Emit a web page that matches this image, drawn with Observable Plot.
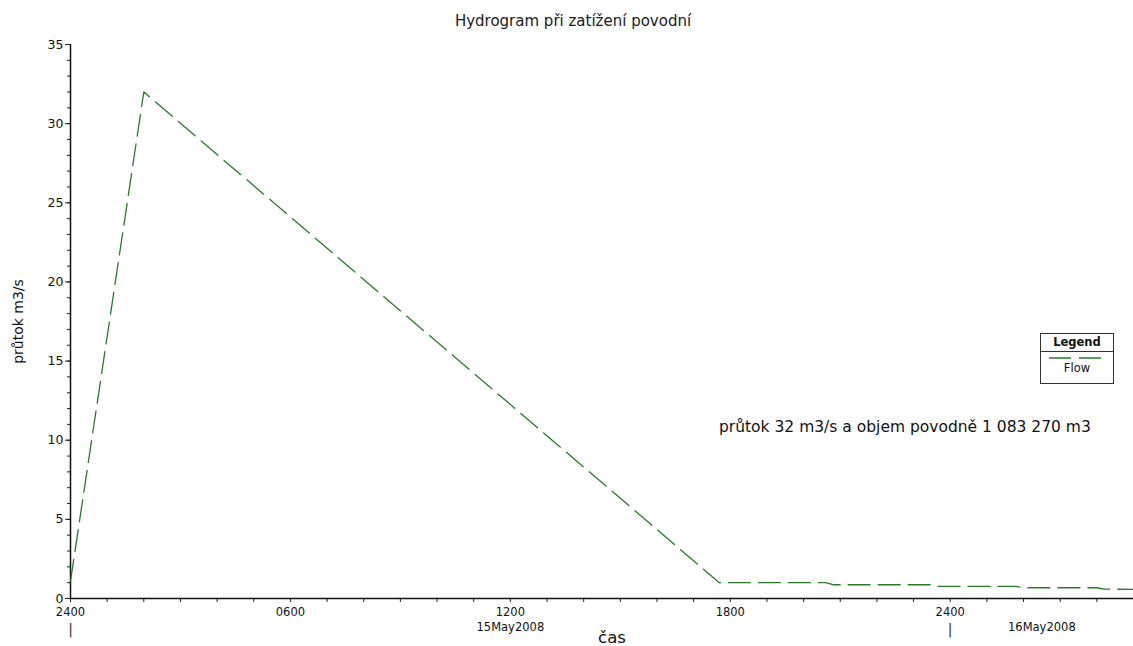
<!DOCTYPE html>
<html>
<head>
<meta charset="utf-8">
<script src="https://cdn.jsdelivr.net/npm/d3@7"></script>
<script src="https://cdn.jsdelivr.net/npm/@observablehq/plot@0.6"></script>
<style>
  html, body { margin: 0; padding: 0; background: #fff; }
  body { font-family: "DejaVu Sans", sans-serif; color: #111; }
  #wrap { position: relative; width: 1133px; height: 646px; overflow: hidden; background: #fff; }
  #title { position: absolute; left: 13px; width: 1120px; top: 12px; text-align: center; font-size: 15px; color: #1a1a1a; }
  #chart { position: absolute; left: 0; top: 30px; }
  #note { position: absolute; left: 719px; top: 418px; font-size: 15.5px; color: #111; white-space: nowrap; }
  #legend { position: absolute; left: 1040px; top: 333px; width: 72px; height: 49px; border: 1px solid #333; background: #fff; font-size: 11.5px; text-align: center; }
  #legend .hd { font-weight: bold; height: 17px; line-height: 17px; border-bottom: 1px solid #333; }
  #legend svg { display: block; margin: 3px auto 0 auto; }
  #legend .it { line-height: 14px; }
</style>
</head>
<body>
<div id="wrap">
  <div id="title">Hydrogram při zatížení povodní</div>
  <div id="chart"></div>
  <div id="note">průtok 32 m3/s a objem povodně 1 083 270 m3</div>
  <div id="legend">
    <div class="hd">Legend</div>
    <svg width="56" height="6"><line x1="0" y1="3" x2="56" y2="3" stroke="#2a7a2a" stroke-width="1.3" stroke-dasharray="22,8"></line></svg>
    <div class="it">Flow</div>
  </div>
</div>
<script>
// Hours since 15 May 2008 00:00 ("2400" of 14 May)
const hours = [0, 2, 17.7, 20.6, 20.8, 23.5, 23.7, 25.8, 26.0, 28.0, 28.2, 29];
// Flow (m3/s)
const flow  = [1.1, 32, 1.0, 1.0, 0.87, 0.87, 0.76, 0.76, 0.68, 0.68, 0.59, 0.58];

const xDomain = [0, 29];
const yDomain = [0, 35];
const yMajorTicks = [0, 5, 10, 15, 20, 25, 30, 35];
const yMinorTicks = d3.range(0, 36, 1);
const xMinorTicks = d3.range(0, 30, 1);
const xLabelHours = [0, 6, 12, 18, 24];
const xLabels = ["2400", "0600", "1200", "1800", "2400"];
const dateHours = [12, 26.5];
const dateLabels = ["15May2008", "16May2008"];
const dayMarkHours = [0, 24];

const data = hours.map((h, i) => ({ h, q: flow[i] }));

const chart = Plot.plot({
  width: 1133,
  height: 616,
  marginLeft: 70,
  marginRight: 0,
  marginTop: 14,
  marginBottom: 48,
  style: { fontFamily: "DejaVu Sans, sans-serif", fontSize: "12px", color: "#111", background: "transparent", overflow: "visible" },
  x: { domain: xDomain, label: null },
  y: { domain: yDomain, label: null },
  marks: [
    Plot.axisY({ ticks: yMinorTicks, tickSize: 3, tickFormat: () => "", label: null, stroke: "#222" }),
    Plot.axisY({ ticks: yMajorTicks, tickSize: 5, tickPadding: 2, fontSize: 12.5, label: null, stroke: "#222" }),
    Plot.axisX({ ticks: xMinorTicks, tickSize: 4, tickFormat: () => "", label: null, stroke: "#222" }),
    Plot.text(xLabelHours, { x: d => d, text: (d, i) => xLabels[i], frameAnchor: "bottom", dy: 14, lineAnchor: "middle", fontSize: 11.5, fill: "#111" }),
    Plot.text(dateHours, { x: d => d, text: (d, i) => dateLabels[i], frameAnchor: "bottom", dy: 29, lineAnchor: "middle", fontSize: 11.5, fill: "#111" }),
    Plot.text(dayMarkHours, { x: d => d, text: () => "|", frameAnchor: "bottom", dy: 31, lineAnchor: "middle", fontSize: 14, fill: "#333" }),
    Plot.text(["čas"], { text: d => d, frameAnchor: "bottom", dx: 10, dy: 39, lineAnchor: "middle", fontSize: 16.5, fill: "#111" }),
    Plot.text(["průtok m3/s"], { text: d => d, frameAnchor: "left", textAnchor: "middle", dx: -52, rotate: -90, fontSize: 14, fill: "#111" }),
    Plot.ruleY([0], { stroke: "#111", strokeWidth: 1.5 }),
    Plot.ruleX([0], { stroke: "#111", strokeWidth: 1.5 }),
    Plot.line(data, { x: "h", y: "q", stroke: "#2a7a2a", strokeWidth: 1.3, strokeDasharray: "22,8" })
  ]
});
document.getElementById("chart").appendChild(chart);
</script>
</body>
</html>
